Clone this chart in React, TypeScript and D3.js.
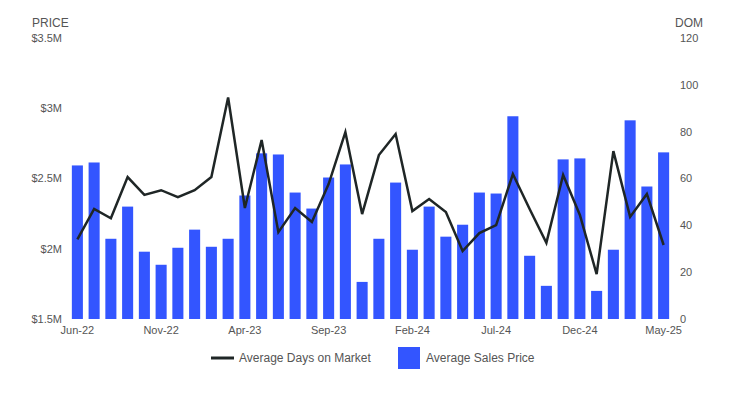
import React from "react";
import * as d3 from "d3";

// months shown on the x axis (Jun-22 .. May-25)
const months = [
  "Jun-22", "Jul-22", "Aug-22", "Sep-22", "Oct-22", "Nov-22", "Dec-22", "Jan-23", "Feb-23",
  "Mar-23", "Apr-23", "May-23", "Jun-23", "Jul-23", "Aug-23", "Sep-23", "Oct-23", "Nov-23",
  "Dec-23", "Jan-24", "Feb-24", "Mar-24", "Apr-24", "May-24", "Jun-24", "Jul-24", "Aug-24",
  "Sep-24", "Oct-24", "Nov-24", "Dec-24", "Jan-25", "Feb-25", "Mar-25", "Apr-25", "May-25",
];

// average sales price, in $M
const salesPrice = [
  2.593, 2.614, 2.071, 2.3, 1.979, 1.886, 2.007, 2.136, 2.014, 2.071, 2.379, 2.679,
  2.671, 2.4, 2.286, 2.507, 2.6, 1.764, 2.071, 2.471, 1.993, 2.3, 2.086, 2.171,
  2.4, 2.393, 2.943, 1.95, 1.736, 2.636, 2.643, 1.7, 1.993, 2.914, 2.443, 2.686,
];

// average days on market
const daysOnMarket = [
  34, 47, 43, 60.6, 53, 55, 52, 55, 60.6, 94.6, 47.4, 76.4,
  37.1, 47.4, 41.4, 57.6, 79.8, 44.8, 70, 79, 46.1, 51.2, 45.7, 29,
  36.7, 40.1, 61.9, 47, 32.5, 61.5, 44.4, 19.2, 71.7, 43.6, 53.4, 31.6,
];

const priceTicks = [1.5, 2, 2.5, 3, 3.5];
const domTicks = [0, 20, 40, 60, 80, 100, 120];
const labelEvery = 5;

const W = 744;
const H = 394;
const top = 38;
const bottom = 319;
const left = 69;
const right = 672;

const textColor = "#555";
const barColor = "#3355ff";
const lineColor = "#1f2626";
const font = "'Liberation Sans', Arial, sans-serif";

const App = () => {
  const x = d3.scaleBand<string>().domain(months).range([left, right]).padding(0);
  const barW = x.bandwidth() * 0.66;
  const cx = (m: string) => (x(m) as number) + x.bandwidth() / 2;

  const yPrice = d3.scaleLinear().domain([1.5, 3.5]).range([bottom, top]);
  const yDom = d3.scaleLinear().domain([0, 120]).range([bottom, top]);

  const line = d3
    .line<number>()
    .x((d, i) => cx(months[i]))
    .y((d) => yDom(d));

  const fmtPrice = (v: number) => `$${v}M`;

  return (
    <svg
      width={W}
      height={H}
      style={{ position: "absolute", left: 0, top: 0 }}
      fontFamily={font}
    >
      <rect width={W} height={H} fill="#fff" />

      {/* axis titles */}
      <text x={32} y={27} fontSize={12} fill={textColor}>PRICE</text>
      <text x={675} y={27} fontSize={12} fill={textColor}>DOM</text>

      {/* left axis */}
      {priceTicks.map((t) => (
        <text
          key={t}
          x={62}
          y={yPrice(t)}
          dy="0.35em"
          textAnchor="end"
          fontSize={11}
          fill={textColor}
        >
          {fmtPrice(t)}
        </text>
      ))}

      {/* right axis */}
      {domTicks.map((t) => (
        <text key={t} x={680} y={yDom(t)} dy="0.35em" fontSize={11} fill={textColor}>
          {t}
        </text>
      ))}

      {/* bars */}
      {salesPrice.map((v, i) => (
        <rect
          key={months[i]}
          x={cx(months[i]) - barW / 2}
          y={yPrice(v)}
          width={barW}
          height={bottom - yPrice(v)}
          fill={barColor}
        />
      ))}

      {/* DOM line */}
      <path
        d={line(daysOnMarket) || ""}
        fill="none"
        stroke={lineColor}
        strokeWidth={2.5}
        strokeLinejoin="miter"
      />

      {/* x labels */}
      {months.map((m, i) =>
        i % labelEvery === 0 ? (
          <text
            key={m}
            x={cx(m)}
            y={330}
            dy="0.35em"
            textAnchor="middle"
            fontSize={11}
            fill={textColor}
          >
            {m}
          </text>
        ) : null
      )}

      {/* legend */}
      <line x1={211} x2={234} y1={358} y2={358} stroke={lineColor} strokeWidth={3} />
      <text x={239} y={358} dy="0.35em" fontSize={12} fill={textColor}>
        Average Days on Market
      </text>
      <rect x={398} y={347} width={22} height={22} fill={barColor} />
      <text x={426} y={358} dy="0.35em" fontSize={12} fill={textColor}>
        Average Sales Price
      </text>
    </svg>
  );
};

export default App;
